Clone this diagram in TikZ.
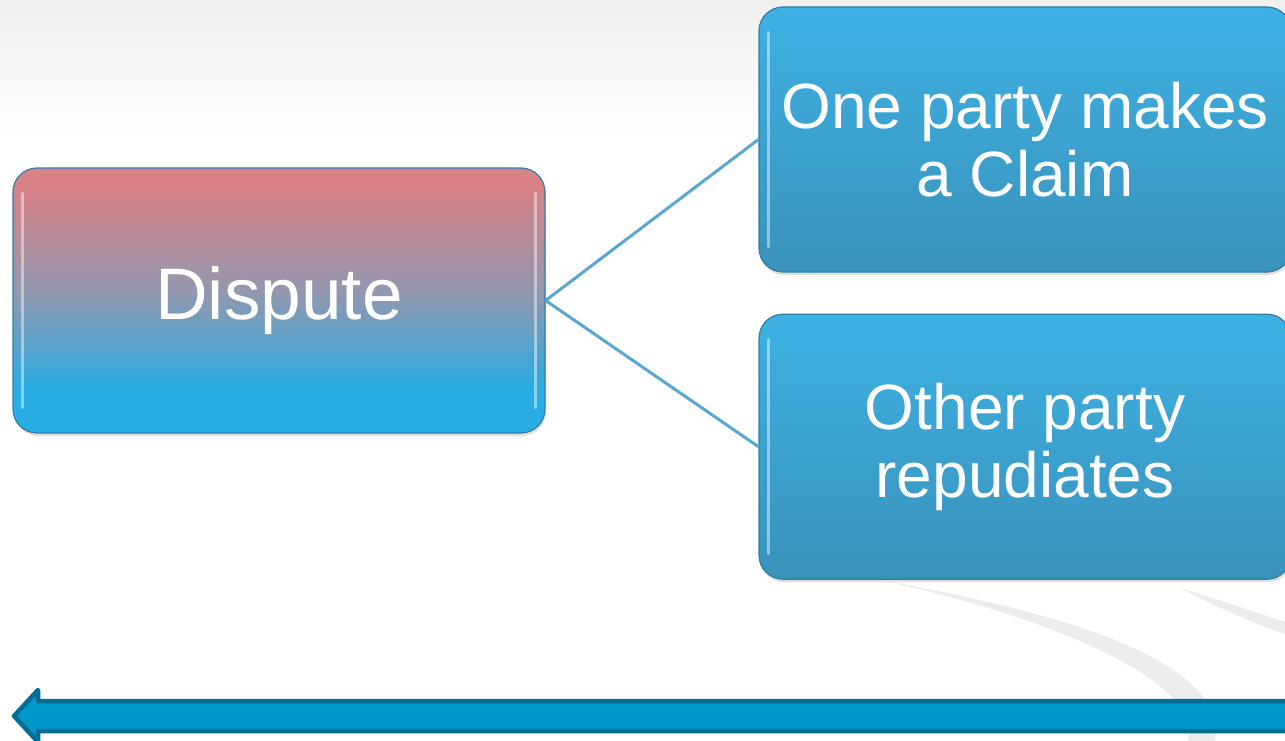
\documentclass[tikz,border=0pt]{standalone}
\usepackage{fontspec}
\setmainfont{Liberation Sans}
\usetikzlibrary{positioning,shadows}
\definecolor{boxtop}{HTML}{3DB1E4}
\definecolor{boxbot}{HTML}{3A92BA}
\definecolor{boxedge}{HTML}{2F7FA6}
\definecolor{disptop}{HTML}{DA8288}
\definecolor{dispmid}{HTML}{9497AE}
\definecolor{dispbot}{HTML}{27ACE3}
\definecolor{linkblue}{HTML}{5AA8D2}
\definecolor{arrowfill}{HTML}{0099CC}
\definecolor{arrowedge}{HTML}{036E95}
\definecolor{swoosh}{HTML}{ECECEC}
\pgfdeclareverticalshading{disputeshade}{100bp}{color(0bp)=(dispbot); color(25bp)=(dispbot); color(33bp)=(dispbot); color(52bp)=(dispmid); color(72bp)=(disptop); color(75bp)=(disptop); color(100bp)=(disptop)}
\tikzset{
	stepnode/.style={rectangle, rounded corners=24pt, minimum width=532pt, minimum height=265pt, draw=boxedge, line width=1.2pt, text=white, align=center, inner sep=0pt, drop shadow={opacity=0.25, shadow xshift=1pt, shadow yshift=-3pt}},
	claimbox/.style={stepnode, top color=boxtop, bottom color=boxbot, font=\fontsize{64}{68}\selectfont},
	disputebox/.style={stepnode, shading=disputeshade, font=\fontsize{73}{78}\selectfont},
	link/.style={draw=linkblue, line width=3pt},
	gloss/.style={white, opacity=0.45, line width=3pt, line cap=round},
}
\begin{document}
\begin{tikzpicture}[x=1pt,y=-1pt]
	\useasboundingbox (0,0) rectangle (1285,741);
	\clip (0,0) rectangle (1285,741);
	\shade[top color=black!6, bottom color=white] (0,0) rectangle (1285,140);
	\fill[swoosh] (880,580) .. controls (1060,612) and (1228,660) .. (1215,741) -- (1188,741) .. controls (1205,686) and (1065,620) .. (880,580) -- cycle;
	\fill[swoosh] (1180,588) .. controls (1220,600) and (1255,612) .. (1285,622) -- (1285,634) .. controls (1250,622) and (1215,606) .. (1180,588) -- cycle;
	\node[disputebox] (dispute) at (279,300.5) {Dispute};
	\node[claimbox] (claim) at (1025,139.5) {One party makes\\a Claim};
	\node[claimbox, below=41pt of claim] (repud) {Other party\\repudiates};
	\draw[gloss] ([shift={(10pt,-26pt)}]dispute.north west) -- ([shift={(10pt,26pt)}]dispute.south west);
	\draw[gloss] ([shift={(-10pt,-26pt)}]dispute.north east) -- ([shift={(-10pt,26pt)}]dispute.south east);
	\draw[gloss] ([shift={(10pt,-26pt)}]claim.north west) -- ([shift={(10pt,26pt)}]claim.south west);
	\draw[gloss] ([shift={(10pt,-26pt)}]repud.north west) -- ([shift={(10pt,26pt)}]repud.south west);
	\draw[link] (dispute.east) -- (claim.west);
	\draw[link] (dispute.east) -- (repud.west);
	\draw[draw=arrowedge, fill=arrowfill, line width=4.5pt, line join=round] (1300,701) -- (38,701) -- (38,690) -- (14,716) -- (38,742) -- (38,731) -- (1300,731) -- cycle;
\end{tikzpicture}
\end{document}
